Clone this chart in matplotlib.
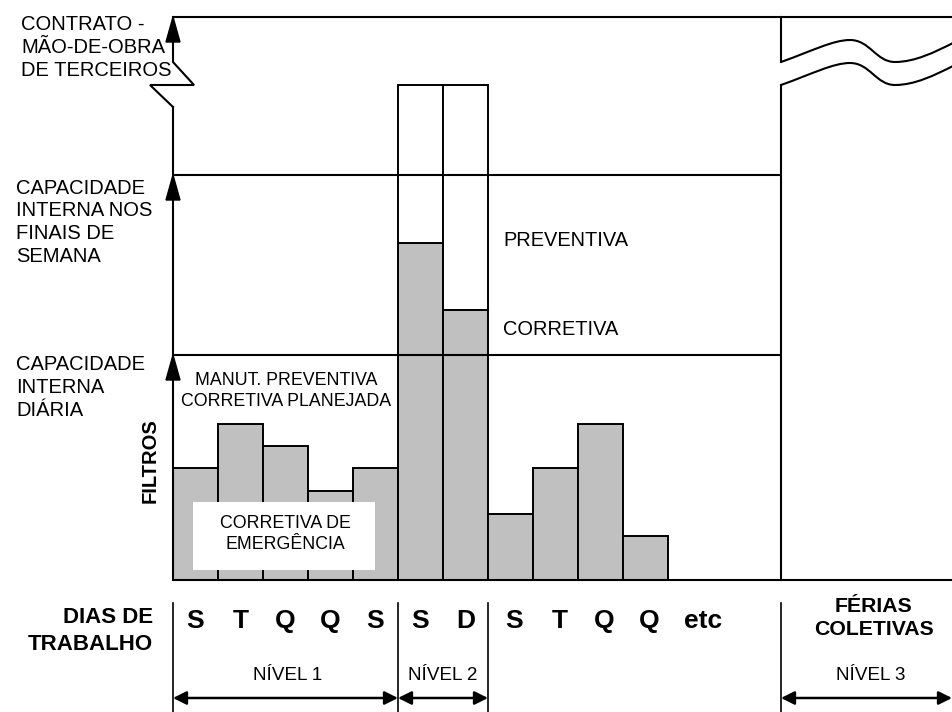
import matplotlib
matplotlib.use("Agg")
import matplotlib.pyplot as plt
from matplotlib.path import Path
from matplotlib.patches import PathPatch, Polygon, Rectangle

# ---------------- data (values in pixel-units above the baseline) ----------------
days = ["S", "T", "Q", "Q", "S", "S", "D", "S", "T", "Q", "Q"]
corretiva = [112, 156, 134, 89, 112, 337, 270, 66, 112, 156, 44]
preventiva = [0, 0, 0, 0, 0, 158, 225, 0, 0, 0, 0]
capacity_levels = [225, 405, 563]
capacity_labels = [
    ["CAPACIDADE", "INTERNA", "DIÁRIA"],
    ["CAPACIDADE", "INTERNA NOS", "FINAIS DE", "SEMANA"],
    ["CONTRATO -", "MÃO-DE-OBRA", "DE TERCEIROS"],
]
nivel_labels = ["NÍVEL 1", "NÍVEL 2", "NÍVEL 3"]

# ---------------- geometry ----------------
W, H = 953, 712
X0, SLOT, BASE = 173, 45, 580   # left axis px, px per day, baseline px
XV = 781                         # vacation divider px

fig = plt.figure(figsize=(W / 100, H / 100), dpi=100)
fig.patch.set_facecolor("white")

# data axes: x in day slots, y in units above baseline
ax = fig.add_axes([0, 0, 1, 1])
ax.set_xlim(-X0 / SLOT, (W - X0) / SLOT)
ax.set_ylim(-(H - BASE), BASE)
ax.axis("off")

# pixel overlay for decorations and text
ov = fig.add_axes([0, 0, 1, 1])
ov.set_xlim(0, W)
ov.set_ylim(H, 0)
ov.axis("off")
ov.patch.set_alpha(0)

GRAY = "#c0c0c0"
LW = 1.5

idx = list(range(len(days)))
ax.bar(idx, corretiva, width=1, align="edge", color=GRAY,
       edgecolor="black", linewidth=1.4, zorder=2)
pv_idx = [i for i in idx if preventiva[i] > 0]
ax.bar(pv_idx, [preventiva[i] for i in pv_idx], bottom=[corretiva[i] for i in pv_idx],
       width=1, align="edge", color="white", edgecolor="black", linewidth=1.4, zorder=2)

x_v = (XV - X0) / SLOT
x_end = (W - X0) / SLOT
# capacity lines
ax.hlines(capacity_levels[:2], 0, x_v, colors="black", linewidth=LW, zorder=3)
ax.hlines(capacity_levels[2], 0, x_end, colors="black", linewidth=LW, zorder=3)
# baseline
ax.hlines(0, 0, x_end, colors="black", linewidth=LW, zorder=3)

def py(level):
    return BASE - level

# left axis with break
top = py(capacity_levels[2])
ov.plot([X0, X0], [BASE, 107], color="black", lw=LW, zorder=3)
ov.plot([X0, X0, 194, 150, X0], [top, 62, 85, 85, 107], color="black", lw=LW,
        zorder=3, solid_joinstyle="miter")
for lv in capacity_levels:
    yt = py(lv)
    ov.add_patch(Polygon([[X0, yt], [X0 - 7, yt + 25], [X0 + 7, yt + 25]],
                         closed=True, color="black", zorder=4))

# right divider with wavy break
ov.plot([XV, XV], [top, 62], color="black", lw=LW, zorder=3)
ov.plot([XV, XV], [85, BASE], color="black", lw=LW, zorder=3)
for dy in (0, 23):
    verts = [(XV, 62 + dy), (812, 51 + dy), (833, 40 + dy), (850, 40 + dy),
             (870, 40 + dy), (876, 62 + dy), (895, 62 + dy),
             (915, 62 + dy), (935, 52 + dy), (953, 43 + dy)]
    codes = [Path.MOVETO] + [Path.CURVE4] * 9
    ov.add_patch(PathPatch(Path(verts, codes), facecolor="none",
                           edgecolor="black", lw=LW, zorder=3))

FONT = ["Liberation Sans", "DejaVu Sans"]

def lines(x, baselines, texts, size, ha="left", weight="normal"):
    for b, t in zip(baselines, texts):
        ov.text(x, b, t, fontsize=size, ha=ha, va="baseline",
                family=FONT, fontweight=weight, zorder=6)

# left labels
lines(21, [30.5, 53, 75.5], capacity_labels[2], 14.5)
lines(16, [194, 216.5, 239, 261.5], capacity_labels[1], 14.5)
lines(16, [370, 393, 415.5], capacity_labels[0], 14.5)

# inner labels
lines(286, [385, 406], ["MANUT. PREVENTIVA", "CORRETIVA PLANEJADA"], 12.8, ha="center")
ov.add_patch(Rectangle((193, 502), 182, 68, facecolor="white",
                       edgecolor="none", zorder=5))
lines(285, [528, 549], ["CORRETIVA DE", "EMERGÊNCIA"], 12.8, ha="center")
lines(503, [246], ["PREVENTIVA"], 14.4)
lines(503, [335], ["CORRETIVA"], 14.4)

ov.text(150, 461, "FILTROS", fontsize=14.5, rotation=90, ha="center", va="center",
        family=FONT, fontweight="bold")

# bottom labels
lines(153, [623, 650], ["DIAS DE", "TRABALHO"], 16, ha="right", weight="bold")
for i, d in enumerate(days):
    cx = X0 + SLOT * (i + 0.5) + (4 if i >= 7 else 0)
    ov.text(cx, 628, d, fontsize=19, ha="center", va="baseline",
            family=FONT, fontweight="bold")
ov.text(X0 + SLOT * 11.5 + 13, 628, "etc", fontsize=19, ha="center",
        va="baseline", family=FONT, fontweight="bold")
lines(874, [612, 635], ["FÉRIAS", "COLETIVAS"], 15.3, ha="center", weight="bold")

# level separators and arrows
for xs in (X0, X0 + SLOT * 5, X0 + SLOT * 7, XV):
    ov.plot([xs, xs], [603, H], color="black", lw=1.2)
spans = [(X0, X0 + SLOT * 5), (X0 + SLOT * 5, X0 + SLOT * 7), (XV, W - 1)]
label_x = [288, 443, 871]
for (a, b), lab, cx in zip(spans, nivel_labels, label_x):
    ov.annotate("", xy=(b, 698), xytext=(a, 698),
                arrowprops=dict(arrowstyle="<|-|>", mutation_scale=20, lw=1.8,
                                color="black", shrinkA=0, shrinkB=0))
    ov.text(cx, 680, lab, fontsize=13.6, ha="center", va="baseline", family=FONT)

fig.savefig("out.png", dpi=100, facecolor="white")
